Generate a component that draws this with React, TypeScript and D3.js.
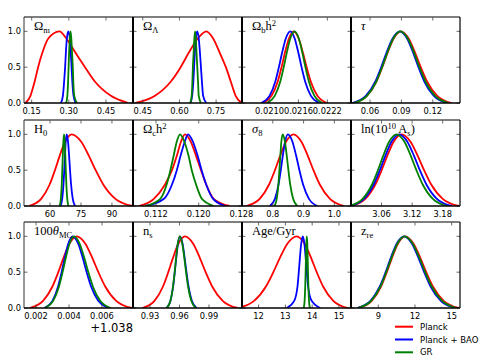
import React from 'react';
import * as d3 from 'd3';

// shared density levels: each curve lists the x where it reaches these heights (left tail -> peak -> right tail)
const LEVELS = [0, 0.1, 0.3, 0.5, 0.7, 0.9, 1, 0.9, 0.7, 0.5, 0.3, 0.1, 0];

const SERIES = ['Planck', 'Planck + BAO', 'GR'];
const COLORS = ['#ff0000', '#0000ff', '#008000'];

// [Planck, Planck + BAO, GR]
const omegaM = [
  [0.125, 0.145, 0.162, 0.176, 0.193, 0.217, 0.262, 0.29, 0.327, 0.365, 0.405, 0.47, 0.54],
  [0.268, 0.276, 0.281, 0.285, 0.288, 0.292, 0.298, 0.304, 0.308, 0.311, 0.314, 0.319, 0.328],
  [0.289, 0.294, 0.297, 0.299, 0.301, 0.304, 0.307, 0.31, 0.313, 0.316, 0.318, 0.322, 0.333],
];
const omegaL = [
  [0.42, 0.5, 0.565, 0.605, 0.638, 0.675, 0.71, 0.738, 0.765, 0.79, 0.81, 0.83, 0.855],
  [0.645, 0.652, 0.657, 0.66, 0.663, 0.667, 0.673, 0.679, 0.684, 0.688, 0.692, 0.697, 0.71],
  [0.644, 0.65, 0.653, 0.655, 0.658, 0.661, 0.664, 0.667, 0.67, 0.673, 0.676, 0.679, 0.688],
];
const omegaBh2 = [
  [0.020862, 0.021043, 0.021171, 0.02125, 0.02132, 0.021403, 0.0215, 0.021605, 0.021694, 0.02177, 0.021856, 0.021993, 0.022189],
  [0.020831, 0.021001, 0.021121, 0.021195, 0.021261, 0.021338, 0.02143, 0.021522, 0.021599, 0.021665, 0.021739, 0.021859, 0.022029],
  [0.020946, 0.021109, 0.021224, 0.021295, 0.021358, 0.021432, 0.02152, 0.021608, 0.021682, 0.021745, 0.021816, 0.021931, 0.022094],
];
const tau = [
  [0.0441, 0.057, 0.0661, 0.0717, 0.0767, 0.0826, 0.0895, 0.0969, 0.1031, 0.1085, 0.1145, 0.1242, 0.138],
  [0.0431, 0.056, 0.0651, 0.0707, 0.0757, 0.0816, 0.0885, 0.0954, 0.1013, 0.1063, 0.1119, 0.121, 0.1339],
  [0.0444, 0.057, 0.066, 0.0715, 0.0764, 0.0822, 0.089, 0.0961, 0.1021, 0.1072, 0.113, 0.1222, 0.1354],
];
const h0 = [
  [49.84, 55.71, 59.83, 62.4, 64.68, 67.34, 70.5, 75.02, 78.83, 82.1, 85.78, 91.68, 100.08],
  [65.04, 65.91, 66.52, 66.9, 67.24, 67.63, 68.1, 68.72, 69.25, 69.7, 70.21, 71.02, 72.18],
  [64.63, 65.25, 65.68, 65.95, 66.19, 66.47, 66.8, 67.13, 67.41, 67.65, 67.92, 68.35, 68.97],
];
const omegaCh2 = [
  [0.1088, 0.1116, 0.1137, 0.115, 0.1159, 0.1167, 0.11742, 0.1185, 0.1195, 0.12042, 0.1214, 0.1228, 0.1258],
  [0.11, 0.1135, 0.115, 0.1159, 0.1166, 0.1174, 0.118, 0.1189, 0.1198, 0.12054, 0.1214, 0.1227, 0.125],
  [0.11, 0.1128, 0.114, 0.1147, 0.1153, 0.1159, 0.1165, 0.1173, 0.1181, 0.1187, 0.1195, 0.1206, 0.1228],
];
const sigma8 = [
  [0.714, 0.7574, 0.788, 0.807, 0.8239, 0.8436, 0.867, 0.8924, 0.9137, 0.932, 0.9526, 0.9857, 1.0328],
  [0.7903, 0.807, 0.8187, 0.826, 0.8325, 0.84, 0.849, 0.8636, 0.8759, 0.8865, 0.8984, 0.9175, 0.9446],
  [0.8052, 0.8128, 0.8182, 0.8215, 0.8245, 0.8279, 0.832, 0.8393, 0.8454, 0.8507, 0.8566, 0.8661, 0.8797],
];
const lnAs = [
  [2.9997, 3.028, 3.0478, 3.0602, 3.0712, 3.084, 3.0992, 3.1165, 3.131, 3.1435, 3.1575, 3.1801, 3.2122],
  [2.9981, 3.0255, 3.0447, 3.0567, 3.0674, 3.0798, 3.0945, 3.1103, 3.1237, 3.1351, 3.148, 3.1686, 3.198],
  [2.9963, 3.0228, 3.0413, 3.0529, 3.0632, 3.0752, 3.0894, 3.1046, 3.1174, 3.1284, 3.1408, 3.1606, 3.1889],
];
// 100 theta_MC, shown with a +1.038 offset
const theta = [
  [0.001614, 0.002425, 0.002995, 0.00335, 0.003666, 0.004033, 0.00447, 0.004981, 0.005411, 0.00578, 0.006195, 0.006862, 0.00781],
  [0.002511, 0.002997, 0.003338, 0.00355, 0.003739, 0.003959, 0.00422, 0.004552, 0.00483, 0.00507, 0.005339, 0.005772, 0.006388],
  [0.00254, 0.00304, 0.003391, 0.00361, 0.003805, 0.004031, 0.0043, 0.004639, 0.004925, 0.00517, 0.005446, 0.005889, 0.006519],
];
const ns = [
  [0.92225, 0.93456, 0.94321, 0.9486, 0.95339, 0.95897, 0.9656, 0.97379, 0.98068, 0.9866, 0.99326, 1.00395, 1.01915],
  [0.94698, 0.95082, 0.95352, 0.9552, 0.95669, 0.95843, 0.9605, 0.96307, 0.96524, 0.9671, 0.96919, 0.97255, 0.97733],
  [0.94704, 0.9508, 0.95345, 0.9551, 0.95657, 0.95827, 0.9603, 0.9628, 0.9649, 0.9667, 0.96873, 0.97199, 0.97662],
];
const age = [
  [11.2015, 11.8314, 12.2742, 12.55, 12.7953, 13.0807, 13.42, 13.7125, 13.9585, 14.17, 14.4078, 14.7895, 15.3325],
  [13.05, 13.33, 13.4524, 13.5, 13.5423, 13.5915, 13.65, 13.7085, 13.7577, 13.8, 13.8476, 13.98, 14.3],
  [13.6852, 13.7178, 13.7407, 13.755, 13.7677, 13.7824, 13.8, 13.8176, 13.8323, 13.845, 13.8593, 13.8822, 13.9148],
];
const zre = [
  [7.375, 8.461, 9.224, 9.7, 10.123, 10.615, 11.2, 11.8708, 12.435, 12.92, 13.4652, 14.3407, 15.586],
  [7.275, 8.361, 9.124, 9.6, 10.023, 10.515, 11.1, 11.7435, 12.2847, 12.75, 13.2731, 14.1129, 15.3075],
  [7.325, 8.411, 9.174, 9.65, 10.073, 10.565, 11.15, 11.8052, 12.3562, 12.83, 13.3626, 14.2177, 15.434],
];

const DOMAINS: [number, number][] = [
  [0.119, 0.559], [0.41, 0.856], [0.02043, 0.02269], [0.0418, 0.146],
  [47.4, 100.2], [0.1077, 0.1281], [0.70, 1.054], [3.0, 3.214],
  [0.00127, 0.00788], [0.9127, 1.0236], [11.38, 15.45], [6.77, 15.68],
];
const TICKS = [
  [0.15, 0.3, 0.45], [0.45, 0.6, 0.75], [0.021, 0.0216, 0.0222], [0.06, 0.09, 0.12],
  [60, 75, 90], [0.112, 0.12, 0.128], [0.8, 0.9, 1.0], [3.06, 3.12, 3.18],
  [0.002, 0.004, 0.006], [0.93, 0.96, 0.99], [12, 13, 14, 15], [9, 12, 15],
];
const TICK_LABELS = [
  ['0.15', '0.30', '0.45'], ['0.45', '0.60', '0.75'], ['0.0210', '0.0216', '0.0222'], ['0.06', '0.09', '0.12'],
  ['60', '75', '90'], ['0.112', '0.120', '0.128'], ['0.8', '0.9', '1.0'], ['3.06', '3.12', '3.18'],
  ['0.002', '0.004', '0.006'], ['0.93', '0.96', '0.99'], ['12', '13', '14', '15'], ['9', '12', '15'],
];
const Y_TICKS = [0, 0.5, 1.0];
const Y_TICK_LABELS = ['0.0', '0.5', '1.0'];
const CURVES = [omegaM, omegaL, omegaBh2, tau, h0, omegaCh2, sigma8, lnAs, theta, ns, age, zre];

// parameter names: [text, 'sub' | 'sup' | 'it' | '']
type Part = [string, string];
const NAMES: Part[][] = [
  [['Ω', ''], ['m', 'sub']],
  [['Ω', ''], ['Λ', 'sub']],
  [['Ω', ''], ['b', 'sub'], ['h', ''], ['2', 'sup']],
  [['τ', 'it']],
  [['H', ''], ['0', 'sub']],
  [['Ω', ''], ['c', 'sub'], ['h', ''], ['2', 'sup']],
  [['σ', 'it'], ['8', 'sub']],
  [['ln(10', ''], ['10', 'sup'], [' A', ''], ['s', 'sub'], [')', '']],
  [['100', ''], ['θ', 'it'], ['MC', 'sub']],
  [['n', ''], ['s', 'sub']],
  [['Age/Gyr', '']],
  [['z', ''], ['re', 'sub']],
];

const COL_X = [24, 133, 242, 351];
const ROW_Y = [17, 120, 222];
const PW = 109;
const PH = 86;
const TICK_FONT = 'DejaVu Sans, sans-serif';

function Name({ parts, x, y }: { parts: Part[]; x: number; y: number }) {
  let shift = 0;
  const spans = parts.map(([t, kind], i) => {
    const target = kind === 'sub' ? 3 : kind === 'sup' ? -4.5 : 0;
    const dy = target - shift;
    shift = target;
    return (
      <tspan key={i} dy={dy}
        fontSize={kind === 'sub' || kind === 'sup' ? 8.5 : 12.5}
        fontStyle={kind === 'it' ? 'italic' : 'normal'}>{t}</tspan>
    );
  });
  return (
    <text x={x} y={y} fontFamily="Liberation Serif, DejaVu Serif, serif" fill="#000">{spans}</text>
  );
}

function Panel({ i }: { i: number }) {
  const col = i % 4;
  const row = Math.floor(i / 4);
  const x0 = COL_X[col];
  const y0 = ROW_Y[row];
  const x = d3.scaleLinear().domain(DOMAINS[i]).range([x0, x0 + PW]);
  const y = d3.scaleLinear().domain([0, 1.2]).range([y0 + PH, y0]);
  const line = d3.line<number>()
    .x(d => x(d))
    .y((_, k) => y(LEVELS[k]))
    .curve(d3.curveMonotoneX);
  const clipId = `clip${i}`;
  return (
    <g>
      <defs>
        <clipPath id={clipId}>
          <rect x={x0} y={y0} width={PW} height={PH} />
        </clipPath>
      </defs>
      <g clipPath={`url(#${clipId})`}>
        {CURVES[i].map((c, s) => (
          <path key={s} d={line(c) || ''} fill="none" stroke={COLORS[s]} strokeWidth={1.8} />
        ))}
      </g>
      {/* inward ticks */}
      {TICKS[i].map((t, k) => (
        <g key={k}>
          <line x1={x(t)} x2={x(t)} y1={y0 + PH} y2={y0 + PH - 3.5} stroke="#444" strokeWidth={0.8} />
          <line x1={x(t)} x2={x(t)} y1={y0} y2={y0 + 3.5} stroke="#444" strokeWidth={0.8} />
          <text x={x(t)} y={y0 + PH + 10.6} textAnchor="middle" fontSize={8.3} fontFamily={TICK_FONT}>{TICK_LABELS[i][k]}</text>
        </g>
      ))}
      {Y_TICKS.map((t, k) => (
        <g key={k}>
          <line x1={x0} x2={x0 + 3.5} y1={y(t)} y2={y(t)} stroke="#444" strokeWidth={0.8} />
          <line x1={x0 + PW} x2={x0 + PW - 3.5} y1={y(t)} y2={y(t)} stroke="#444" strokeWidth={0.8} />
          {col === 0 && (
            <text x={x0 - 3} y={y(t) + 3} textAnchor="end" fontSize={8.3} fontFamily={TICK_FONT}>{Y_TICK_LABELS[k]}</text>
          )}
        </g>
      ))}
      {/* frame */}
      <line x1={x0} x2={x0 + PW} y1={y0} y2={y0} stroke="#555" strokeWidth={1.5} />
      <line x1={x0} x2={x0 + PW} y1={y0 + PH} y2={y0 + PH} stroke="#000" strokeWidth={1.4} />
      <line x1={x0} x2={x0} y1={y0} y2={y0 + PH} stroke={col === 0 ? '#333' : '#000'} strokeWidth={col === 0 ? 1 : 1.8} />
      <line x1={x0 + PW} x2={x0 + PW} y1={y0} y2={y0 + PH} stroke="#000" strokeWidth={col === 3 ? 1.2 : 1.8} />
      <Name parts={NAMES[i]} x={x0 + 10} y={y0 + 13} />
    </g>
  );
}

export default function App() {
  return (
    <svg width={485} height={363} style={{ position: 'absolute', left: 0, top: 0, background: '#fff' }}>
      {NAMES.map((_, i) => <Panel key={i} i={i} />)}
      <text x={133} y={332} textAnchor="end" fontSize={11.5} fontFamily={TICK_FONT}>+1.038</text>
      {SERIES.map((s, k) => (
        <g key={s}>
          <line x1={395} x2={413} y1={326.7 + k * 12.8} y2={326.7 + k * 12.8} stroke={COLORS[k]} strokeWidth={2} />
          <text x={420} y={326.7 + k * 12.8 + 3} fontSize={8.5} fontFamily={TICK_FONT}>{s}</text>
        </g>
      ))}
    </svg>
  );
}
